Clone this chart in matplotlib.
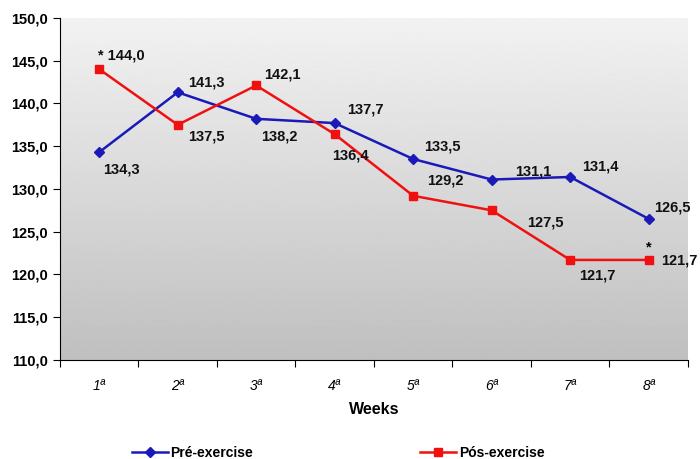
import matplotlib.pyplot as plt
import numpy as np

weeks = ["1ª", "2ª", "3ª", "4ª", "5ª", "6ª", "7ª", "8ª"]
pre = [134.3, 141.3, 138.2, 137.7, 133.5, 131.1, 131.4, 126.5]
pos = [144.0, 137.5, 142.1, 136.4, 129.2, 127.5, 121.7, 121.7]
pos_marks = ["* ", "", "", "", "", "", "", ""]

# label offsets (pixels) for each point
pre_off = [(4, -17), (10, 10), (5, -18), (12, 14), (11, 13), (23, 8), (12, 10), (5, 11)]
pos_off = [(-1, 14), (10, -12), (8, 11), (-3, -21), (14, 15), (35, -12), (9, -16), (12, -1)]

plt.rcParams["font.family"] = ["Liberation Sans", "DejaVu Sans"]

fig = plt.figure(figsize=(7, 4.59), dpi=100)
ax = fig.add_axes([0.0857, 0.2157, 0.897, 0.7453])

x = np.arange(len(weeks))
ax.set_xlim(-0.5, len(weeks) - 0.5)
ax.set_ylim(110, 150)

# gray gradient background, light top to darker bottom
grad = np.linspace(0.95, 0.75, 256).reshape(-1, 1)
ax.imshow(grad, cmap="gray", vmin=0, vmax=1, aspect="auto",
          extent=(-0.5, len(weeks) - 0.5, 110, 150), origin="upper", zorder=0)

ax.plot(x, pre, color="#1a1ab8", lw=1.8, marker="D", ms=5,
        label="Pré-exercise", zorder=3)
ax.plot(x, pos, color="#f01010", lw=1.8, marker="s", ms=6,
        label="Pós-exercise", zorder=3)

for i, v in enumerate(pre):
    ax.annotate(f"{v:.1f}".replace(".", ","), (x[i], v), xytext=pre_off[i],
                textcoords="offset pixels", ha="left", va="center",
                fontsize=10.5, fontweight="bold", color="#111111")
for i, v in enumerate(pos):
    ax.annotate(pos_marks[i] + f"{v:.1f}".replace(".", ","), (x[i], v),
                xytext=pos_off[i], textcoords="offset pixels", ha="left",
                va="center", fontsize=10.5, fontweight="bold", color="#111111")
ax.annotate("*", (x[-1], pos[-1]), xytext=(-3, 12), textcoords="offset pixels",
            ha="left", va="center", fontsize=10.5, fontweight="bold")

ax.set_yticks(np.arange(110, 151, 5))
ax.set_yticklabels([f"{t:.1f}".replace(".", ",") for t in np.arange(110, 151, 5)],
                   fontsize=10.5, fontweight="bold")
ax.set_xticks(np.arange(-0.5, len(weeks), 1), minor=False)
ax.set_xticklabels([])
ax.set_xticks(x, minor=True)
ax.set_xticklabels(weeks, minor=True, fontsize=10, style="italic")
ax.tick_params(axis="x", which="minor", length=0, pad=14)
ax.tick_params(axis="x", which="major", length=5, direction="out")
ax.tick_params(axis="y", length=5, direction="out")

for s in ["top", "right"]:
    ax.spines[s].set_visible(False)
ax.set_xlabel("Weeks", fontsize=11.5, fontweight="bold", labelpad=6)

fig.legend(loc="lower left", bbox_to_anchor=(0.17, -0.03), ncol=2, frameon=False,
           columnspacing=12, handlelength=2.6, handletextpad=0.2,
           prop={"size": 10, "weight": "bold"})

fig.savefig("out.png", dpi=100)
